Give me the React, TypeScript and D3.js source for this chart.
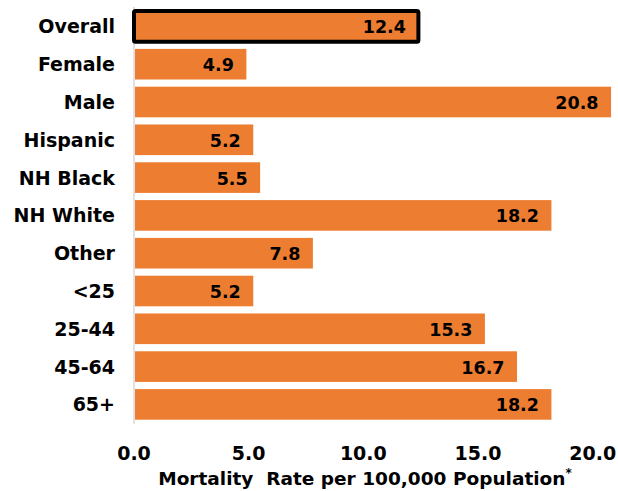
import React from "react";
import * as d3 from "d3";

const categories = ["Overall", "Female", "Male", "Hispanic", "NH Black", "NH White", "Other", "<25", "25-44", "45-64", "65+"];
const values = [12.4, 4.9, 20.8, 5.2, 5.5, 18.2, 7.8, 5.2, 15.3, 16.7, 18.2];
const tickValues = [0, 5, 10, 15, 20];
const highlighted = ["Overall"];

const W = 618;
const H = 491;
const FONT = "Verdana, 'DejaVu Sans', sans-serif";

export default function App() {
  const x = d3.scaleLinear().domain([0, 20]).range([134, 592.7]);
  const y = d3.scaleBand<string>().domain(categories).range([7.5, 423.3]).paddingInner(0.19).paddingOuter(0.095);
  const bw = y.bandwidth();

  return (
    <svg width={W} height={H} style={{ position: "absolute", left: 0, top: 0, background: "#fff" }}>
      <line x1={x(0)} x2={x(0)} y1={7} y2={424} stroke="#D9D9D9" strokeWidth={1.5} />
      {categories.map((c, i) => {
        const yy = y(c)!;
        const hl = highlighted.includes(c);
        return (
          <g key={c}>
            <rect
              x={x(0) + (hl ? 0 : 1)}
              y={yy}
              width={x(values[i]) - x(0) - (hl ? 0 : 1)}
              height={bw}
              fill="#ED7D31"
              stroke={hl ? "#000" : "none"}
              strokeWidth={hl ? 4 : 0}
              rx={hl ? 1.5 : 0}
            />
            <text
              x={115}
              y={yy + bw / 2}
              textAnchor="end"
              dominantBaseline="central"
              fontFamily={FONT}
              fontWeight="bold"
              fontSize={19}
              fill="#000"
            >
              {c}
            </text>
            <text
              x={x(values[i]) - 12.5}
              y={yy + bw / 2 + 1}
              textAnchor="end"
              dominantBaseline="central"
              fontFamily={FONT}
              fontWeight="bold"
              fontSize={17.5}
              fill="#000"
            >
              {d3.format(".1f")(values[i])}
            </text>
          </g>
        );
      })}
      {tickValues.map((t) => (
        <text
          key={t}
          x={x(t)}
          y={460}
          textAnchor="middle"
          fontFamily={FONT}
          fontWeight="bold"
          fontSize={19}
          fill="#000"
        >
          {d3.format(".1f")(t)}
        </text>
      ))}
      <text x={365} y={485} textAnchor="middle" fontFamily={FONT} fontWeight="bold" fontSize={18.5} fill="#000" xmlSpace="preserve">
        Mortality  Rate per 100,000 Population
        <tspan dy={-8} fontSize={12}>*</tspan>
      </text>
    </svg>
  );
}
